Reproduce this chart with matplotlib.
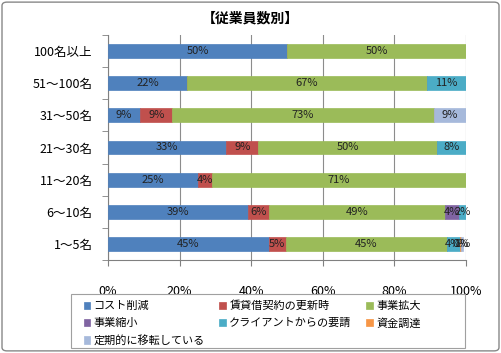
import numpy as np
import matplotlib.pyplot as plt
from matplotlib.patches import FancyBboxPatch, Rectangle

plt.rcParams['font.family'] = ['Noto Sans CJK JP', 'DejaVu Sans']

categories = ['100名以上', '51～100名', '31～50名', '21～30名', '11～20名', '6～10名', '1～5名']
series = ['コスト削減', '賃貸借契約の更新時', '事業拡大', '事業縮小',
          'クライアントからの要請', '資金調達', '定期的に移転している']
colors = ['#4F81BD', '#C0504D', '#9BBB59', '#8064A2', '#4BACC6', '#F79646', '#A6B9DB']

# one list per series, in category order
cost = [50, 22, 9, 33, 25, 39, 45]
lease = [0, 0, 9, 9, 4, 6, 4.6]
expand = [50, 67, 73, 50, 71, 49, 45]
shrink = [0, 0, 0, 0, 0, 4, 0]
client = [0, 11, 0, 8, 0, 2, 3.6]
funding = [0, 0, 0, 0, 0, 0, 0.4]
regular = [0, 0, 9, 0, 0, 0, 0.6]
values = [cost, lease, expand, shrink, client, funding, regular]

fig = plt.figure(figsize=(5.01, 3.53), dpi=100)
ax = fig.add_axes([108 / 501, 1 - 260 / 353, 358 / 501, 225 / 353])

y = np.arange(len(categories))
left = np.zeros(len(categories))
handles = []
for name, vals, col in zip(series, values, colors):
    vals = np.array(vals, dtype=float)
    h = ax.barh(y, vals, left=left, height=0.43, color=col, edgecolor=col,
                linewidth=0.5, label=name, zorder=3)
    handles.append(h)
    for yi, (l, v) in enumerate(zip(left, vals)):
        if v > 0:
            ax.text(l + v / 2, yi, f'{v:.0f}%', ha='center', va='center',
                    fontsize=8, color='#222222', zorder=4)
    left += vals

ax.set_xlim(0, 100)
ax.set_ylim(len(categories) - 0.5, -0.5)
ax.set_xticks(np.arange(0, 101, 20))
ax.set_xticklabels([f'{t}%' for t in range(0, 101, 20)], fontsize=9)
ax.set_yticks(y)
ax.set_yticklabels(categories, fontsize=9)
ax.set_yticks(np.arange(-0.5, len(categories), 1), minor=True)
ax.tick_params(axis='y', which='major', length=0, pad=11)
ax.tick_params(axis='y', which='minor', length=4, color='#808080')
ax.tick_params(axis='x', length=4, color='#808080', pad=14)
ax.grid(axis='x', color='#8c8c8c', linewidth=0.8, zorder=0)
for s in ['top', 'right']:
    ax.spines[s].set_visible(False)
for s in ['left', 'bottom']:
    ax.spines[s].set_color('#808080')

fig.text(0.5, 1 - 18 / 353, '【従業員数別】', ha='center', va='center',
         fontsize=10, fontweight='bold')

# legend box drawn separately, entries in row-major order
fig.patches.append(Rectangle((71 / 501, 1 - 348 / 353), 394 / 501, 54 / 353,
                             transform=fig.transFigure, fill=False,
                             edgecolor='#a0a0a0', linewidth=0.8))
order = [0, 3, 6, 1, 4, 2, 5]
fig.legend([handles[i] for i in order], [series[i] for i in order],
           loc='upper left', bbox_to_anchor=(78 / 501, 1 - 295 / 353),
           ncol=3, fontsize=8, frameon=False, borderpad=0,
           handlelength=0.6, handleheight=0.6, handletextpad=0.3,
           columnspacing=1.3, labelspacing=0.62)

fig.patches.append(FancyBboxPatch((0.004, 0.006), 0.992, 0.988,
                                  boxstyle='round,pad=0,rounding_size=0.01',
                                  transform=fig.transFigure, fill=False,
                                  edgecolor='#888888', linewidth=1))

fig.savefig('out.png', dpi=100)
